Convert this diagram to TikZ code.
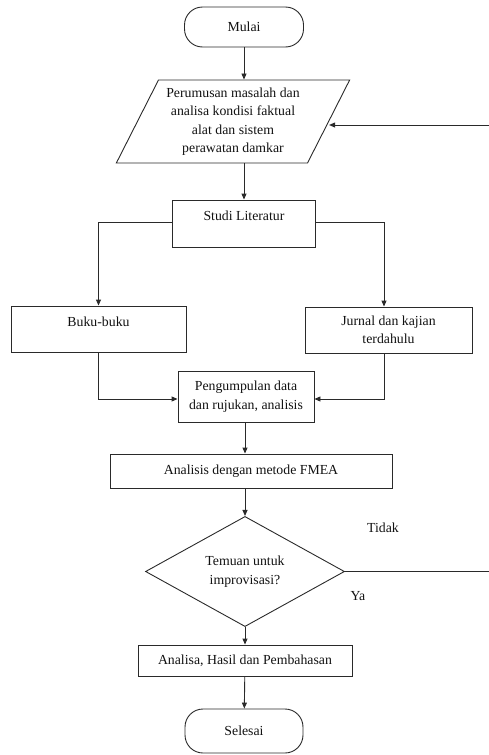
\documentclass[tikz,border=0pt]{standalone}
\usepackage{fontspec}
\setmainfont{Liberation Serif}
\usepackage{tikz}
\usetikzlibrary{positioning,arrows.meta,shapes.geometric,calc}
\definecolor{LineDark}{HTML}{2A2A2A}
\definecolor{TextDark}{HTML}{111111}

\begin{document}
\begin{tikzpicture}[x=1pt,y=-1pt,
      every node/.style={font=\fontsize{13.8}{18.5}\selectfont,text=TextDark},
      box/.style={draw=LineDark,line width=0.9pt,inner sep=2pt,align=center},
      term/.style={box,rounded corners=18pt},
      ar/.style={-{Triangle[length=6pt,width=5pt]},line width=0.9pt,LineDark},
      ln/.style={line width=0.9pt,LineDark}]
      \useasboundingbox (0,0) rectangle (489,755);
      \node[term, minimum width=119pt, minimum height=40pt] (mulai) at (244,27) {Mulai};
      \node[box, trapezium, trapezium left angle=61, trapezium right angle=119,
            trapezium stretches=true, minimum width=234pt, minimum height=83pt, inner sep=0pt]
        (para) at (233,121.5)
        {Perumusan masalah dan\\ analisa kondisi faktual\\ alat dan sistem\\ perawatan damkar};
      \node[box, minimum width=143pt, minimum height=47pt, text depth=16pt] (studi) at (244,223.5) {Studi Literatur};
      \node[box, minimum width=175pt, minimum height=46pt, text depth=15pt] (buku) at (98.5,329) {Buku-buku};
      \node[box, minimum width=167pt, minimum height=46pt] (jurnal) at (388.5,330) {Jurnal dan kajian\\ terdahulu};
      \node[box, minimum width=136pt, minimum height=51pt] (kumpul) at (246,396.5) {Pengumpulan data\\ dan rujukan, analisis};
      \node[box, minimum width=282pt, minimum height=34pt] (fmea) at (251,471) {Analisis dengan metode FMEA};
      \node[box, diamond, minimum width=199pt, minimum height=97pt, inner sep=0pt] (temuan) at (245,571.5) {Temuan untuk\\ improvisasi?};
      \node[box, minimum width=214pt, minimum height=31pt] (hasil) at (245,660.5) {Analisa, Hasil dan Pembahasan};
      \node[term, minimum width=118pt, minimum height=44pt] (selesai) at (244,731) {Selesai};
      \node (tidak) at (383,528) {Tidak};
      \node (ya) at (358,596) {Ya};
      \coordinate (balik) at (491,0);
      \draw[ar](mulai)--(mulai |- para.north);
      \draw[ar](para.south -| studi)--(studi);
      \draw[ar](studi.west |- 0,222)-|(buku);
      \draw[ar](studi.east |- 0,222)-|(jurnal.north -| 384,0);
      \draw[ar](buku)|-(kumpul.west |- 0,399);
      \draw[ar](jurnal.south -| 384,0)|-(kumpul.east |- 0,399);
      \draw[ar](kumpul.south -| 245,0)--(fmea.north -| 245,0);
      \draw[ar](fmea.south -| 245,0)--(temuan);
      \draw[ar](temuan)--(hasil); \draw[ar](hasil)--(selesai);
      \draw[ar](temuan.east)--(temuan.east -| balik)--(balik |- 0,125)--(para.east |- 0,125);
    \end{tikzpicture}
\end{document}
